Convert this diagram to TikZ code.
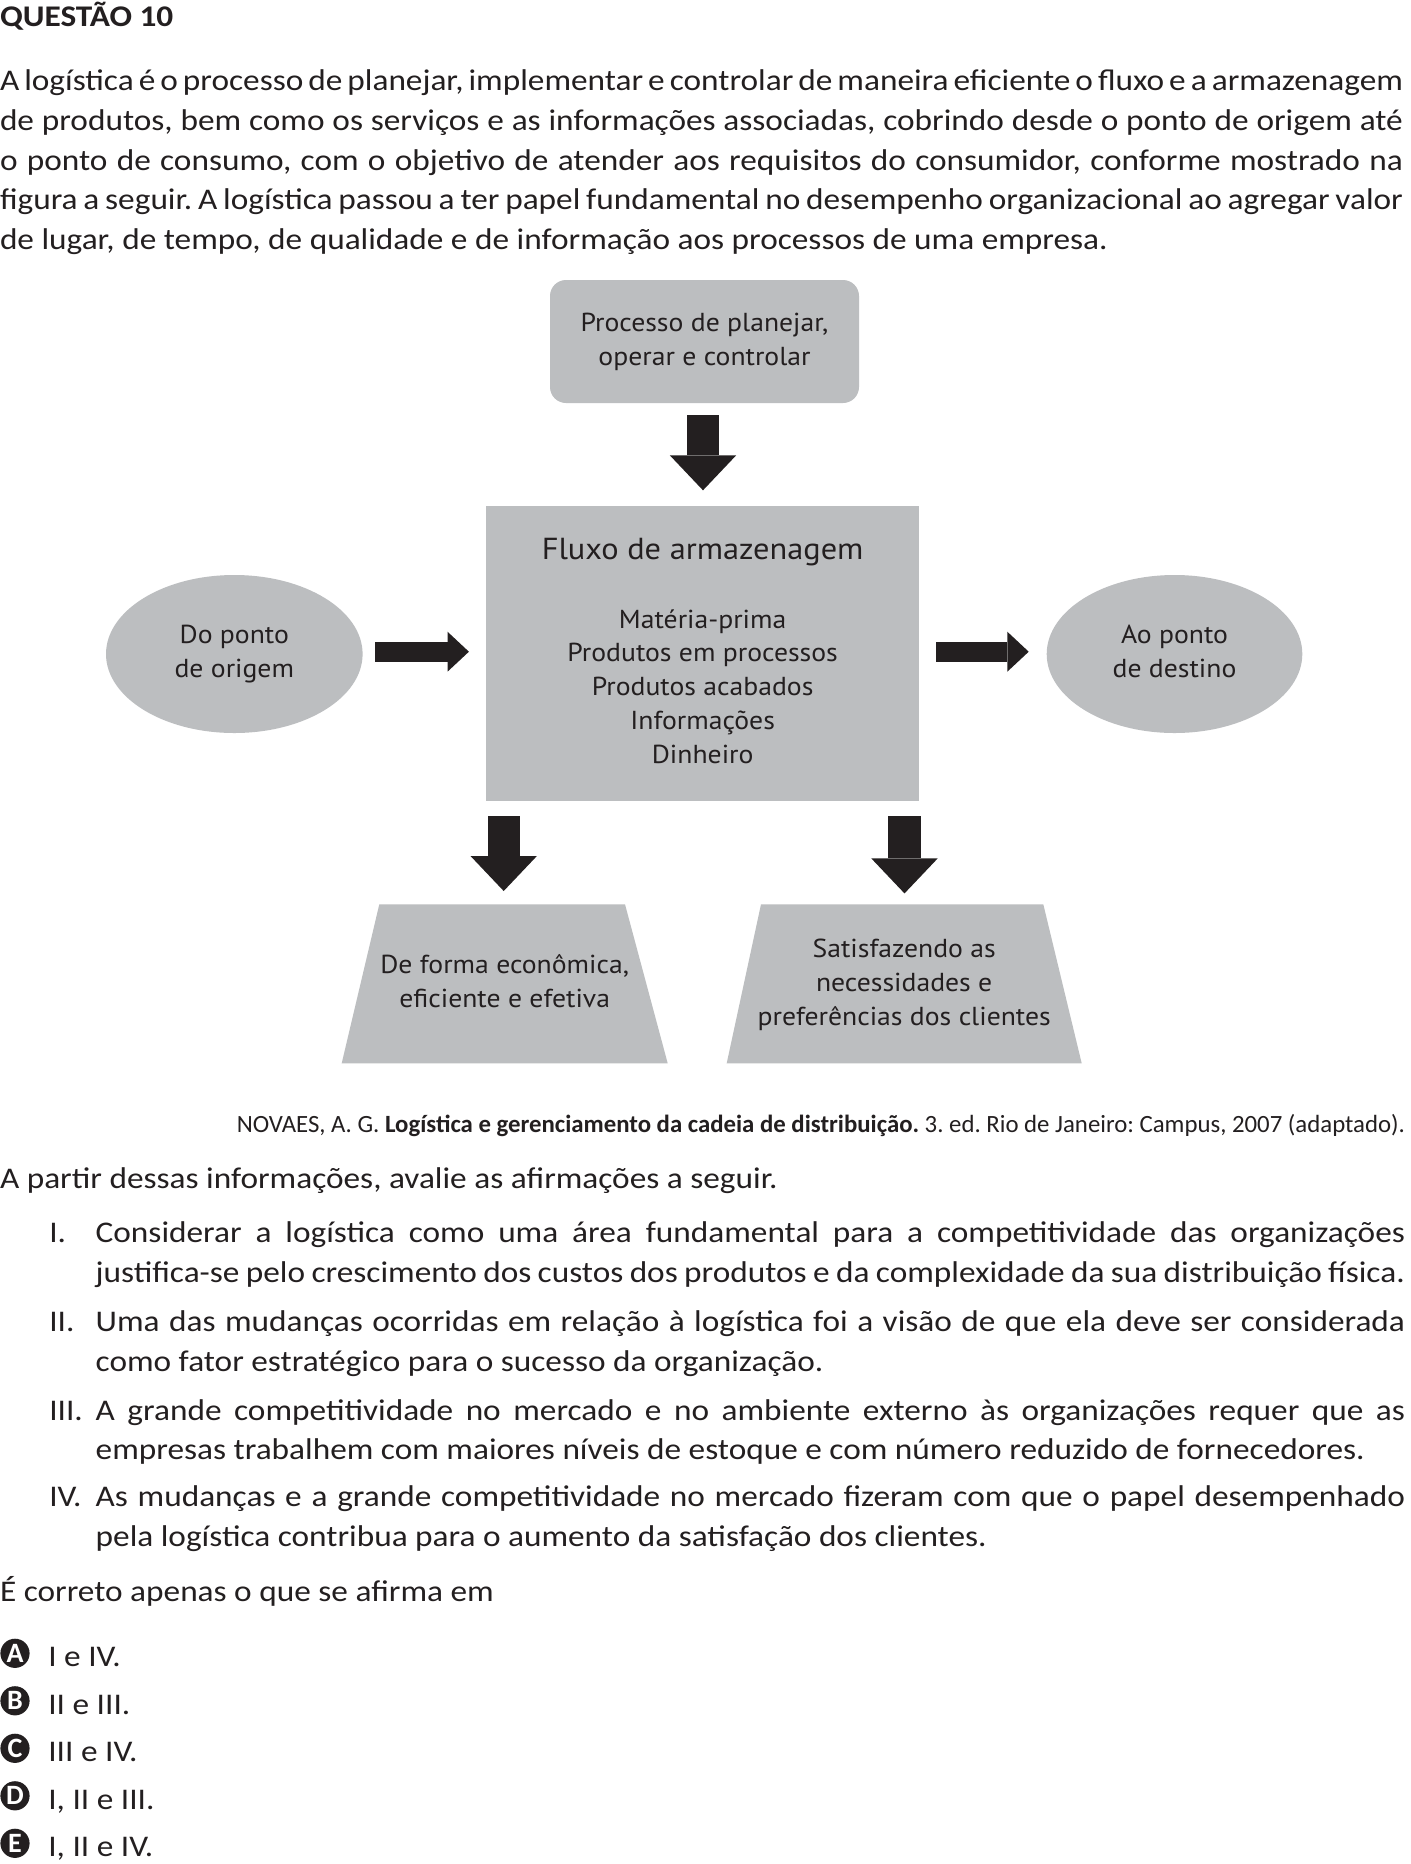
\documentclass[tikz,border=0pt]{standalone}
\usepackage{fontspec}
\setmainfont{Carlito}[FakeStretch=1.11]
\newfontfamily\citefont{Carlito}
\newfontfamily\diagfont{PT Sans}[FakeStretch=1.065]
\usetikzlibrary{arrows.meta,shapes.geometric,calc,backgrounds}
\definecolor{ink}{HTML}{231F20}
\definecolor{boxgray}{HTML}{BCBEC0}
\newlength\Wfull \setlength\Wfull{701.5pt}
\newlength\Witem \setlength\Witem{654.65pt}
\frenchspacing
\newcommand\jline[2]{\hbox to #1{\frenchspacing\spaceskip=0.226em plus 1fil minus 0.1em\relax #2}}
\newcommand\dstrut{\rule[-5.1pt]{0pt}{17pt}}
\begin{document}
\begin{tikzpicture}[x=0.5pt,y=-0.5pt,
  body/.style={inner sep=0pt, outer sep=0pt, text=ink, font=\fontsize{15}{19.85}\selectfont},
  headline/.style={body, font=\bfseries\fontsize{15}{19.85}\selectfont},
  cite/.style={body, font=\citefont\fontsize{12.4}{15}\selectfont},
  dtext/.style={inner sep=0pt, outer sep=0pt, text=ink, font=\diagfont\fontsize{13}{17}\selectfont},
  dtitle/.style={dtext, font=\diagfont\fontsize{15.2}{19}\selectfont},
  shapebox/.style={fill=boxgray, draw=none},
  blockdown/.style={draw=ink, line width=16.2pt, -{Triangle[width=33.2pt, length=17.5pt, line width=0pt]}},
  blockright/.style={draw=ink, line width=10pt, -{Triangle[width=20pt, length=10.7pt, line width=0pt]}},
  optcircle/.style={circle, fill=ink, text=white, minimum size=14.6pt, inner sep=0pt, font=\citefont\bfseries\fontsize{14}{14}\selectfont}
]
\useasboundingbox (0,0) rectangle (1410,1864);
\begin{pgfonlayer}{background}
\fill[white] (0,0) rectangle (1410,1864);
\end{pgfonlayer}

% heading and paragraph
\node[headline, anchor=base west] (q) at (0,26.7) {QUESTÃO 10};
\node[body, anchor=base west] (p1) at (0,90.7) {\jline{\Wfull}{A logística é o processo de planejar, implementar e controlar de maneira eficiente o fluxo e a armazenagem}};
\node[body, anchor=base west] (p2) at (0,130.4) {\jline{\Wfull}{de produtos, bem como os serviços e as informações associadas, cobrindo desde o ponto de origem até}};
\node[body, anchor=base west] (p3) at (0,170.1) {\jline{\Wfull}{o ponto de consumo, com o objetivo de atender aos requisitos do consumidor, conforme mostrado na}};
\node[body, anchor=base west] (p4) at (0,209.8) {\jline{\Wfull}{figura a seguir. A logística passou a ter papel fundamental no desempenho organizacional ao agregar valor}};
\node[body, anchor=base west] (p5) at (0,249.5) {de lugar, de tempo, de qualidade e de informação aos processos de uma empresa.};

% diagram
\node[shapebox, dtext, rounded corners=8pt, minimum width=154.5pt, minimum height=61.5pt, align=center] (plan) at (704.5,341.5) {\dstrut Processo de planejar,\\\dstrut operar e controlar};
\node[shapebox, minimum width=216.65pt, minimum height=147.5pt, inner sep=0pt] (fluxo) at (702.65,653.5) {};
\node[dtitle, anchor=base] (ftitle) at (702.65,559) {Fluxo de armazenagem};
\node[dtext, anchor=base] (f1) at (702.65,628) {Matéria-prima};
\node[dtext, anchor=base] (f2) at (702.65,661.8) {Produtos em processos};
\node[dtext, anchor=base] (f3) at (702.65,695.6) {Produtos acabados};
\node[dtext, anchor=base] (f4) at (702.65,729.4) {Informações};
\node[dtext, anchor=base] (f5) at (702.65,763.2) {Dinheiro};
\node[shapebox, dtext, ellipse, minimum width=128.3pt, minimum height=79pt, align=center] (origem) at (234.3,654) {\dstrut Do ponto\\\dstrut de origem};
\node[shapebox, dtext, ellipse, minimum width=127.8pt, minimum height=79pt, align=center] (destino) at (1174.5,654) {\dstrut Ao ponto\\\dstrut de destino};
\node[dtext, minimum width=163pt, minimum height=79.5pt, align=center] (econ) at (504.7,983.8) {\dstrut De forma econômica,\\\dstrut eficiente e efetiva};
\node[dtext, minimum width=177.5pt, minimum height=79.5pt, align=center] (satisf) at (904.2,985) {\dstrut Satisfazendo as\\\dstrut necessidades e\\\dstrut preferências dos clientes};
\begin{pgfonlayer}{background}
\fill[boxgray] ($(econ.north west)+(37.6,0)$) -- ($(econ.north east)+(-42.7,0)$) -- (econ.south east) -- (econ.south west) -- cycle;
\fill[boxgray] ($(satisf.north west)+(34.3,-1.2)$) -- ($(satisf.north east)+(-38.4,-1.2)$) -- ($(satisf.south east)+(0,-1.2)$) -- ($(satisf.south west)+(0,-1.2)$) -- cycle;
\end{pgfonlayer}

\draw[blockdown] ($(plan.south)+(-1.5,12)$) -- ($(plan.south |- fluxo.north)+(-1.5,-15.3)$);
\draw[blockright] ($(origem.east)+(12.4,-2.3)$) -- ($(fluxo.west |- origem.east)+(-16.7,-2.3)$);
\draw[blockright] ($(fluxo.east |- destino.west)+(16.7,-2.3)$) -- ($(destino.west)+(-18,-2.3)$);
\draw[blockdown] ($(econ.north |- fluxo.south)+(-1,15)$) -- ($(econ.north)+(-1,-13.3)$);
\draw[blockdown] ($(satisf.north |- fluxo.south)+(0.3,15)$) -- ($(satisf.north)+(0.3,-12.1)$);

% citation
\node[cite, anchor=base east] (cit) at (1405,1132.3) {NOVAES, A. G. \textbf{Logística e gerenciamento da cadeia de distribuição.} 3. ed. Rio de Janeiro: Campus, 2007 (adaptado).};

\node[body, anchor=base west] (intro) at (0,1188.3) {A partir dessas informações, avalie as afirmações a seguir.};

% items
\node[body, anchor=base west] (n1) at (49.3,1242.7) {I.};
\node[body, anchor=base west] (i1a) at (95.7,1242.7) {\jline{\Witem}{Considerar a logística como uma área fundamental para a competitividade das organizações}};
\node[body, anchor=base west] (i1b) at (95.7,1282.7) {\jline{\Witem}{justifica-se pelo crescimento dos custos dos produtos e da complexidade da sua distribuição física.}};
\node[body, anchor=base west] (n2) at (49.3,1331.7) {II.};
\node[body, anchor=base west] (i2a) at (95.7,1331.7) {\jline{\Witem}{Uma das mudanças ocorridas em relação à logística foi a visão de que ela deve ser considerada}};
\node[body, anchor=base west] (i2b) at (95.7,1371.7) {como fator estratégico para o sucesso da organização.};
\node[body, anchor=base west] (n3) at (49.3,1420) {III.};
\node[body, anchor=base west] (i3a) at (95.7,1420) {\jline{\Witem}{A grande competitividade no mercado e no ambiente externo às organizações requer que as}};
\node[body, anchor=base west] (i3b) at (95.7,1459.3) {empresas trabalhem com maiores níveis de estoque e com número reduzido de fornecedores.};
\node[body, anchor=base west] (n4) at (49.3,1506.7) {IV.};
\node[body, anchor=base west] (i4a) at (95.7,1506.7) {\jline{\Witem}{As mudanças e a grande competitividade no mercado fizeram com que o papel desempenhado}};
\node[body, anchor=base west] (i4b) at (95.7,1546.7) {pela logística contribua para o aumento da satisfação dos clientes.};

\node[body, anchor=base west] (ask) at (0,1601.7) {É correto apenas o que se afirma em};

% options
\node[optcircle] (oa) at (15,1653.3) {A};
\node[body, anchor=base west] (ta) at (48.3,1666.7) {I e IV.};
\node[optcircle] (ob) at (15,1700.8) {B};
\node[body, anchor=base west] (tb) at (48.3,1714.2) {II e III.};
\node[optcircle] (oc) at (15,1748.3) {C};
\node[body, anchor=base west] (tc) at (48.3,1761.7) {III e IV.};
\node[optcircle] (od) at (15,1795.8) {D};
\node[body, anchor=base west] (td) at (48.3,1809.2) {I, II e III.};
\node[optcircle] (oe) at (15,1843.3) {E};
\node[body, anchor=base west] (te) at (48.3,1856.7) {I, II e IV.};
\end{tikzpicture}
\end{document}
